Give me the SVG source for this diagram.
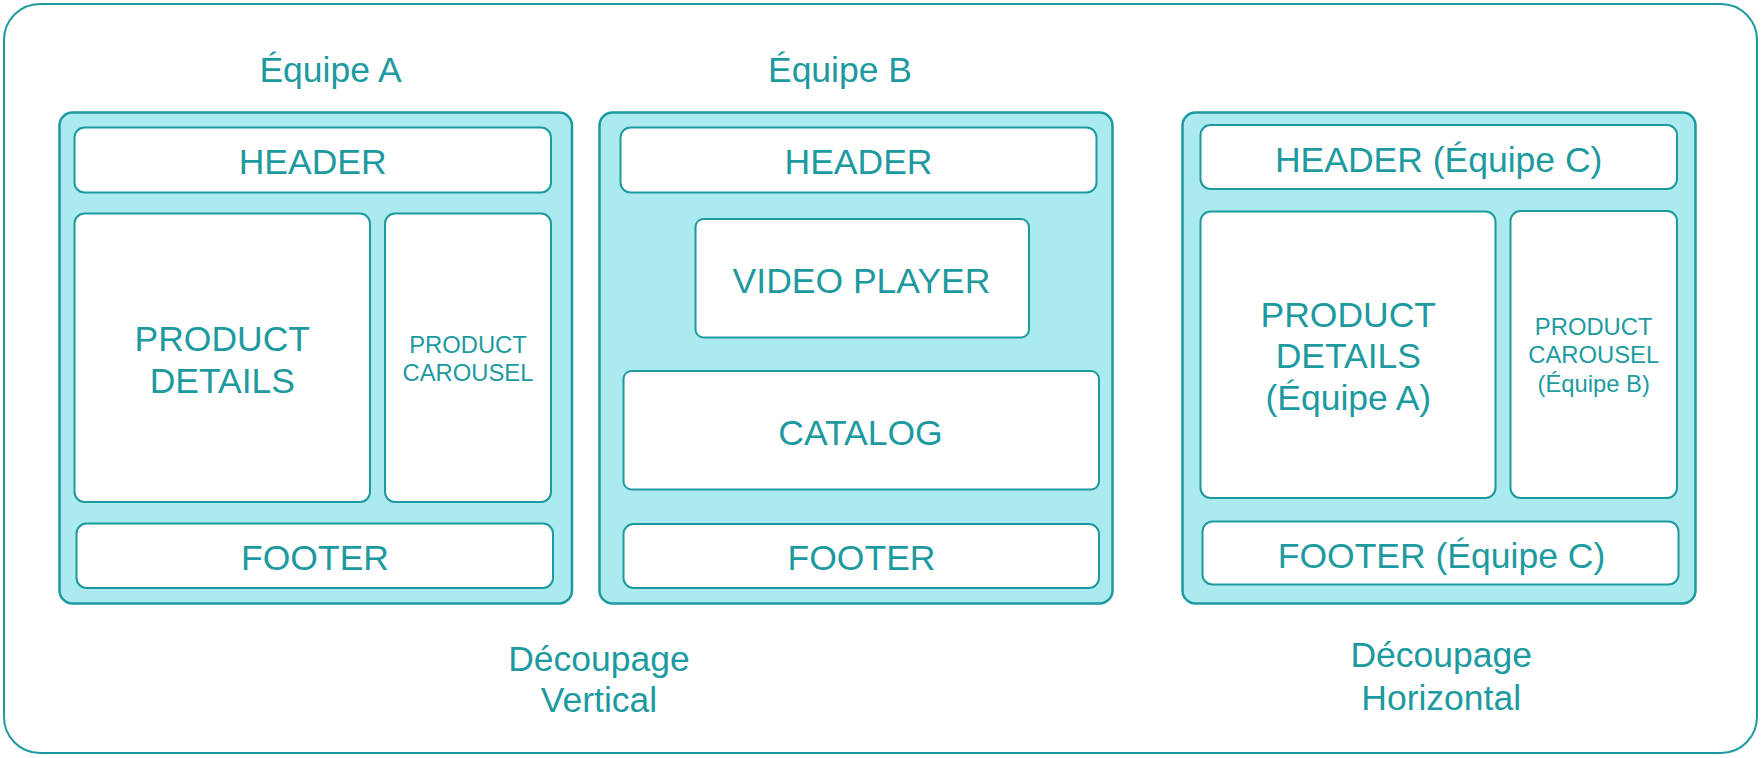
<svg xmlns="http://www.w3.org/2000/svg" width="1762" height="758" viewBox="0 0 1762 758">
<style>
.frame{fill:#ffffff;stroke:#1d9aa0;stroke-width:2}
.panel{fill:#abebf0;stroke:#1d9aa0;stroke-width:2.5}
.box{fill:#ffffff;stroke:#1d9aa0;stroke-width:2}
text{font-family:"Liberation Sans",Arial,Helvetica,sans-serif;fill:#1d9aa0;text-anchor:middle}
.big{font-size:35.5px}
.small{font-size:23.8px}
</style>
<rect width="1762" height="758" fill="#ffffff"/>
<g id="frame">
<rect class="frame" x="4" y="4" width="1753" height="749" rx="36"/>
</g>
<g id="labels">
<text class="big" x="330.5" y="82">Équipe A</text>
<text class="big" x="840" y="82">Équipe B</text>
<text class="big" x="599" y="670.7">Découpage</text>
<text class="big" x="599" y="712">Vertical</text>
<text class="big" x="1441.2" y="667.3">Découpage</text>
<text class="big" x="1441.2" y="709.7">Horizontal</text>
</g>
<g id="panel-a">
<rect class="panel" x="59.5" y="112.5" width="512.5" height="491" rx="13"/>
<g id="a-header"><rect class="box" x="74.5" y="127.5" width="476.5" height="65" rx="10"/><text class="big" x="312.7" y="174">HEADER</text></g>
<g id="a-details"><rect class="box" x="74.5" y="213.5" width="295.5" height="288.5" rx="10"/><text class="big" x="222.3" y="350.7">PRODUCT</text><text class="big" x="222.3" y="393">DETAILS</text></g>
<g id="a-carousel"><rect class="box" x="385" y="213.5" width="166" height="288.5" rx="10"/><text class="small" x="468" y="352.7">PRODUCT</text><text class="small" x="468" y="381">CAROUSEL</text></g>
<g id="a-footer"><rect class="box" x="76.5" y="523.5" width="476.5" height="64.5" rx="10"/><text class="big" x="315" y="570.3">FOOTER</text></g>
</g>
<g id="panel-b">
<rect class="panel" x="599.5" y="112.5" width="513" height="491" rx="13"/>
<g id="b-header"><rect class="box" x="620.5" y="127.5" width="476" height="65" rx="10"/><text class="big" x="858.5" y="174">HEADER</text></g>
<g id="b-video"><rect class="box" x="695.5" y="219" width="333.5" height="118.5" rx="8"/><text class="big" x="861.5" y="293.3">VIDEO PLAYER</text></g>
<g id="b-catalog"><rect class="box" x="623.5" y="371" width="475.5" height="118.5" rx="8"/><text class="big" x="860.5" y="444.7">CATALOG</text></g>
<g id="b-footer"><rect class="box" x="623.5" y="524" width="475.5" height="64" rx="10"/><text class="big" x="861.5" y="569.7">FOOTER</text></g>
</g>
<g id="panel-c">
<rect class="panel" x="1182.5" y="112.5" width="513" height="491" rx="13"/>
<g id="c-header"><rect class="box" x="1200.5" y="125" width="476.5" height="64" rx="10"/><text class="big" x="1438.7" y="172.3">HEADER (Équipe C)</text></g>
<g id="c-details"><rect class="box" x="1200.5" y="211.5" width="295" height="286.5" rx="10"/><text class="big" x="1348.3" y="326.7">PRODUCT</text><text class="big" x="1348.3" y="368.3">DETAILS</text><text class="big" x="1348.3" y="410">(Équipe A)</text></g>
<g id="c-carousel"><rect class="box" x="1510.5" y="211" width="166.5" height="287" rx="10"/><text class="small" x="1593.7" y="335">PRODUCT</text><text class="small" x="1593.7" y="363.3">CAROUSEL</text><text class="small" x="1593.7" y="391.6">(Équipe B)</text></g>
<g id="c-footer"><rect class="box" x="1202.5" y="521.5" width="476" height="63" rx="10"/><text class="big" x="1441.5" y="568">FOOTER (Équipe C)</text></g>
</g>
<g id="connectors"></g>
</svg>
